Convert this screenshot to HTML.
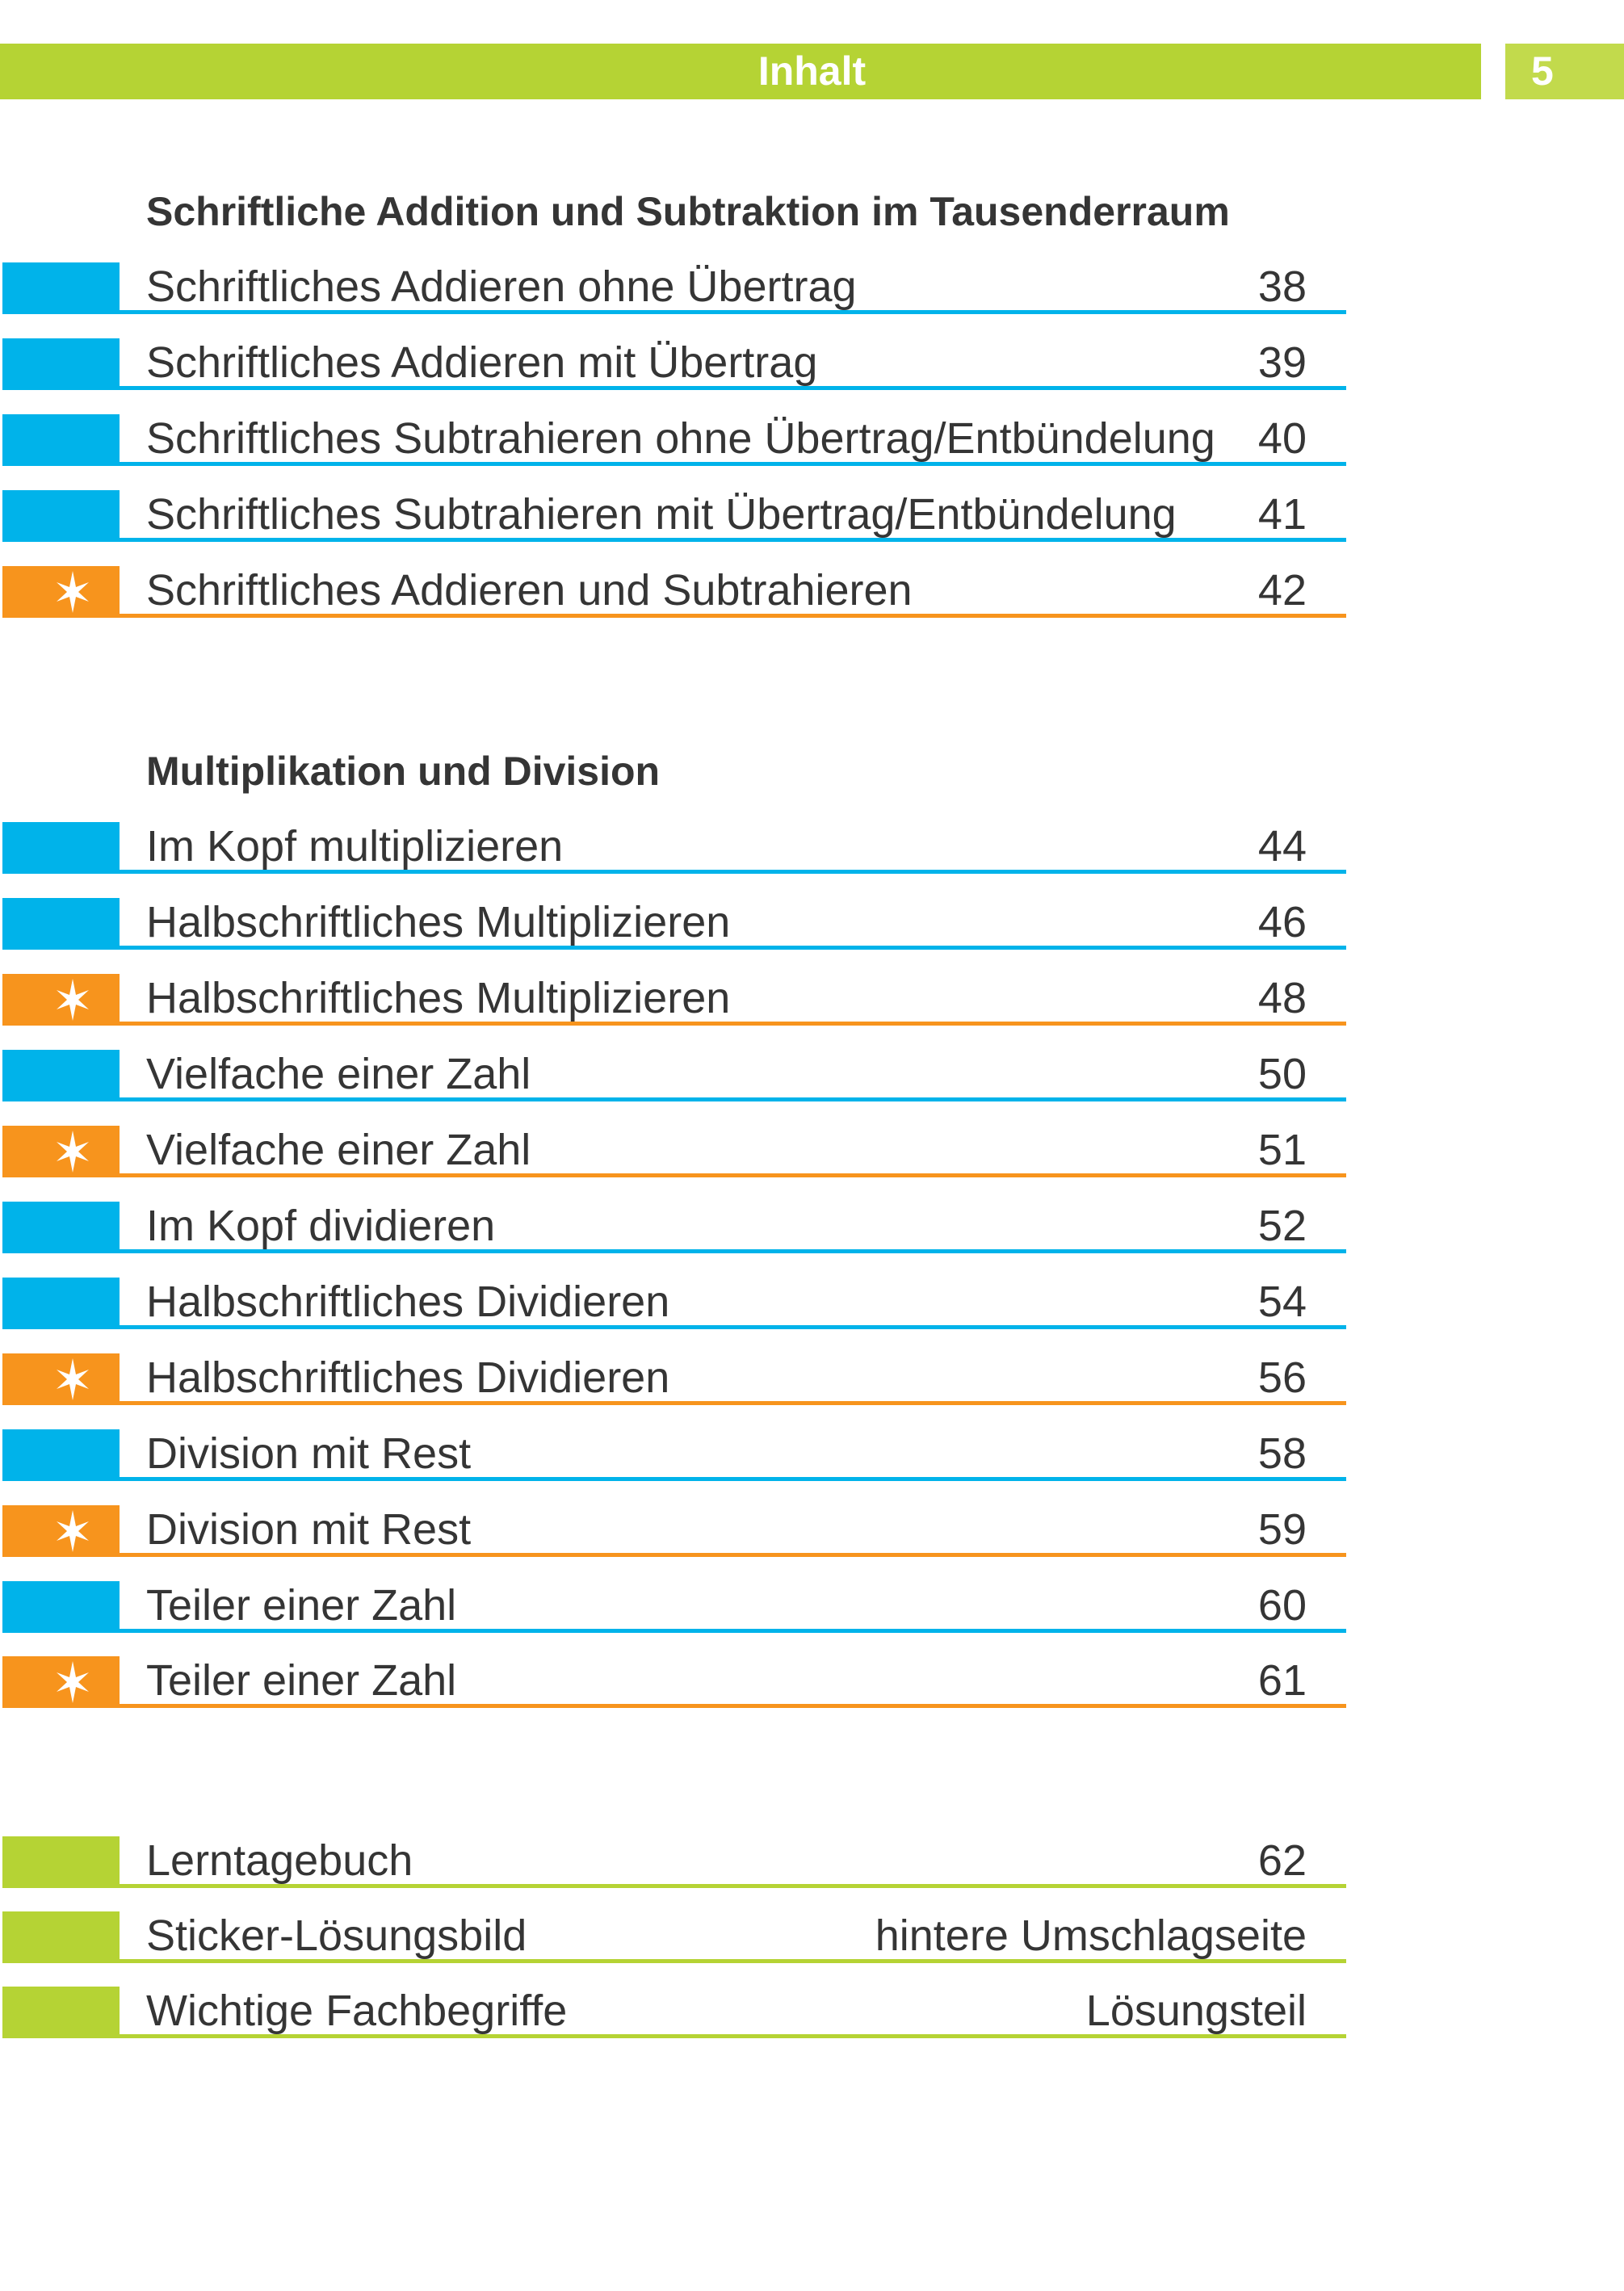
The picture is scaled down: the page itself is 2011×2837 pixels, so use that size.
<!DOCTYPE html>
<html><head><meta charset="utf-8"><style>
body{margin:0;width:2011px;height:2837px;background:#fff;position:relative;overflow:hidden;font-family:"Liberation Sans",sans-serif;color:#353535}
.bar{position:absolute;top:54px;height:69px;background:#b5d334}
.bar span{position:absolute;color:#fff;font-weight:bold;font-size:50px;line-height:69px}
.h{position:absolute;left:181px;font-weight:bold;font-size:50px;line-height:50px;white-space:nowrap}
.r{position:absolute;left:0;width:1667px;height:64px}
.sq{position:absolute;left:3px;top:0;width:145px;height:64px}
.ln{position:absolute;left:148px;right:0;bottom:0;height:5px}
.t{position:absolute;left:181px;bottom:7px;font-size:54px;line-height:54px;white-space:nowrap}
.n{position:absolute;right:49px;bottom:7px;font-size:54px;line-height:54px;white-space:nowrap}
.b .sq,.b .ln{background:#00b3ea}
.o .sq,.o .ln{background:#f7941d}
.g .sq,.g .ln{background:#b5d334}
.sq svg{position:absolute;left:61px;top:6px}
</style></head><body>
<div class="bar" style="left:0;width:1834px"><span style="left:0;width:2011px;text-align:center">Inhalt</span></div>
<div class="bar" style="left:1864px;width:147px;background:#c2da4c"><span style="left:32px">5</span></div>

<div class="h" style="top:237px">Schriftliche Addition und Subtraktion im Tausenderraum</div>
<div class="h" style="top:930px">Multiplikation und Division</div>

<div class="r b" style="top:325px"><div class="sq"></div><div class="ln"></div><div class="t">Schriftliches Addieren ohne Übertrag</div><div class="n">38</div></div>
<div class="r b" style="top:419px"><div class="sq"></div><div class="ln"></div><div class="t">Schriftliches Addieren mit Übertrag</div><div class="n">39</div></div>
<div class="r b" style="top:513px"><div class="sq"></div><div class="ln"></div><div class="t">Schriftliches Subtrahieren ohne Übertrag/Entbündelung</div><div class="n">40</div></div>
<div class="r b" style="top:607px"><div class="sq"></div><div class="ln"></div><div class="t">Schriftliches Subtrahieren mit Übertrag/Entbündelung</div><div class="n">41</div></div>
<div class="r o" style="top:701px"><div class="sq"><svg width="52" height="52" viewBox="-26 -26 52 52"><polygon fill="#fff" points="0,-26 4,-6 20,-12 7,0 20,12 4,6 0,26 -4,6 -20,12 -7,0 -20,-12 -4,-6"/></svg></div><div class="ln"></div><div class="t">Schriftliches Addieren und Subtrahieren</div><div class="n">42</div></div>

<div class="r b" style="top:1018px"><div class="sq"></div><div class="ln"></div><div class="t">Im Kopf multiplizieren</div><div class="n">44</div></div>
<div class="r b" style="top:1112px"><div class="sq"></div><div class="ln"></div><div class="t">Halbschriftliches Multiplizieren</div><div class="n">46</div></div>
<div class="r o" style="top:1206px"><div class="sq"><svg width="52" height="52" viewBox="-26 -26 52 52"><polygon fill="#fff" points="0,-26 4,-6 20,-12 7,0 20,12 4,6 0,26 -4,6 -20,12 -7,0 -20,-12 -4,-6"/></svg></div><div class="ln"></div><div class="t">Halbschriftliches Multiplizieren</div><div class="n">48</div></div>
<div class="r b" style="top:1300px"><div class="sq"></div><div class="ln"></div><div class="t">Vielfache einer Zahl</div><div class="n">50</div></div>
<div class="r o" style="top:1394px"><div class="sq"><svg width="52" height="52" viewBox="-26 -26 52 52"><polygon fill="#fff" points="0,-26 4,-6 20,-12 7,0 20,12 4,6 0,26 -4,6 -20,12 -7,0 -20,-12 -4,-6"/></svg></div><div class="ln"></div><div class="t">Vielfache einer Zahl</div><div class="n">51</div></div>
<div class="r b" style="top:1488px"><div class="sq"></div><div class="ln"></div><div class="t">Im Kopf dividieren</div><div class="n">52</div></div>
<div class="r b" style="top:1582px"><div class="sq"></div><div class="ln"></div><div class="t">Halbschriftliches Dividieren</div><div class="n">54</div></div>
<div class="r o" style="top:1676px"><div class="sq"><svg width="52" height="52" viewBox="-26 -26 52 52"><polygon fill="#fff" points="0,-26 4,-6 20,-12 7,0 20,12 4,6 0,26 -4,6 -20,12 -7,0 -20,-12 -4,-6"/></svg></div><div class="ln"></div><div class="t">Halbschriftliches Dividieren</div><div class="n">56</div></div>
<div class="r b" style="top:1770px"><div class="sq"></div><div class="ln"></div><div class="t">Division mit Rest</div><div class="n">58</div></div>
<div class="r o" style="top:1864px"><div class="sq"><svg width="52" height="52" viewBox="-26 -26 52 52"><polygon fill="#fff" points="0,-26 4,-6 20,-12 7,0 20,12 4,6 0,26 -4,6 -20,12 -7,0 -20,-12 -4,-6"/></svg></div><div class="ln"></div><div class="t">Division mit Rest</div><div class="n">59</div></div>
<div class="r b" style="top:1958px"><div class="sq"></div><div class="ln"></div><div class="t">Teiler einer Zahl</div><div class="n">60</div></div>
<div class="r o" style="top:2051px"><div class="sq"><svg width="52" height="52" viewBox="-26 -26 52 52"><polygon fill="#fff" points="0,-26 4,-6 20,-12 7,0 20,12 4,6 0,26 -4,6 -20,12 -7,0 -20,-12 -4,-6"/></svg></div><div class="ln"></div><div class="t">Teiler einer Zahl</div><div class="n">61</div></div>

<div class="r g" style="top:2274px"><div class="sq"></div><div class="ln"></div><div class="t">Lerntagebuch</div><div class="n">62</div></div>
<div class="r g" style="top:2367px"><div class="sq"></div><div class="ln"></div><div class="t">Sticker-Lösungsbild</div><div class="n">hintere Umschlagseite</div></div>
<div class="r g" style="top:2460px"><div class="sq"></div><div class="ln"></div><div class="t">Wichtige Fachbegriffe</div><div class="n">Lösungsteil</div></div>
</body></html>
